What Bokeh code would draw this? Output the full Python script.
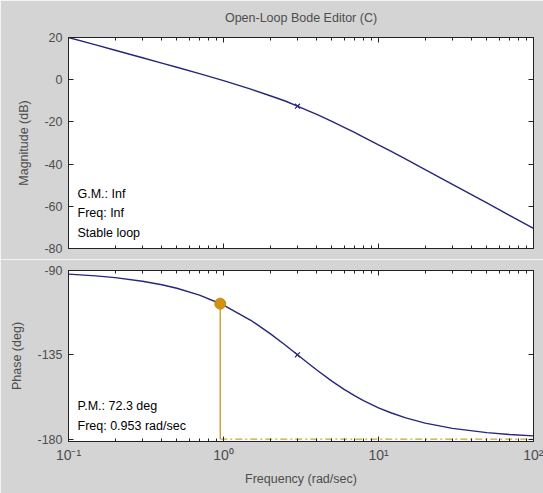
from bokeh.plotting import figure
from bokeh.layouts import column
from bokeh.models import Range1d, LogAxis, LinearAxis, Label, FixedTicker
from bokeh.embed import file_html
from bokeh.resources import INLINE

# ---- data ----
freq = [0.1, 0.15, 0.2, 0.3, 0.4, 0.5, 0.7, 1, 1.5, 2, 2.5, 3, 3.5, 4, 5, 6, 7, 8,
        10, 12, 15, 20, 30, 50, 70, 100]
mag_db = [20.0, 16.47, 13.96, 10.41, 7.88, 5.90, 2.86, -0.46, -4.49, -7.62, -10.10,
          -12.55, -14.65, -16.48, -19.80, -22.55, -25.0, -27.2, -30.9, -33.88, -37.67,
          -42.63, -49.58, -58.43, -64.27, -70.46]
phase_deg = [-91.91, -92.86, -93.81, -95.71, -97.59, -99.46, -103.13, -108.43, -116.57,
             -123.69, -129.81, -135.0, -139.40, -143.13, -149.04, -153.43, -156.80,
             -159.44, -163.30, -165.96, -168.69, -171.47, -174.29, -176.57, -177.55,
             -178.28]
pole_freq = [3.0]
pole_mag = [-12.55]
pole_phase = [-135.0]
pm_freq = [0.953]
pm_phase = [-107.7]
ref_freq = [0.953, 100]
ref_phase = [-180, -180]

mag_ticks = [20, 0, -20, -40, -60, -80]
phase_ticks = [-90, -135, -180]
x_ticks = [0.1, 1, 10, 100]
x_tick_labels = {0.1: "10⁻¹", 1: "10⁰", 10: "10¹", 100: "10²"}

title_text = "Open-Loop Bode Editor (C)"
gm_texts = ["G.M.: Inf", "Freq: Inf", "Stable loop"]
gm_pos = [-54.3, -63.3, -72.8]
pm_texts = ["P.M.: 72.3 deg", "Freq: 0.953 rad/sec"]
pm_pos = [-162.6, -173.2]

BG = "#d4d4d4"
TXT = "#4d4d4d"
NAVY = "#26267a"
FONT = "Liberation Sans"

minors = [m * d for d in [0.1, 1, 10] for m in range(2, 10)]


def style_axis(ax, hidden=False):
    ax.axis_line_color = "#222222"
    ax.major_tick_in = 5
    ax.major_tick_out = 0
    ax.minor_tick_in = 3
    ax.minor_tick_out = 0
    ax.major_tick_line_color = "#222222"
    ax.minor_tick_line_color = "#222222"
    ax.major_label_text_font = FONT
    ax.major_label_text_font_size = "12.5px"
    ax.major_label_text_color = TXT
    ax.major_label_standoff = 6
    ax.axis_label_text_font = FONT
    ax.axis_label_text_font_size = "12.5px"
    ax.axis_label_text_font_style = "normal"
    ax.axis_label_text_color = TXT
    if hidden:
        ax.major_label_text_font_size = "1px"
        ax.major_label_text_alpha = 0
        ax.major_label_standoff = 0


def build(p, yticks, show_x):
    p.background_fill_color = "white"
    p.border_fill_color = BG
    p.outline_line_color = "#222222"
    p.grid.visible = False
    bottom = p.below[0]
    left = p.left[0]
    bottom.ticker = FixedTicker(ticks=x_ticks, minor_ticks=minors)
    left.ticker = FixedTicker(ticks=yticks)
    left.major_label_overrides = {t: str(t) for t in yticks}
    style_axis(bottom, hidden=not show_x)
    style_axis(left)
    left.axis_label_standoff = 10
    top = LogAxis(ticker=FixedTicker(ticks=x_ticks, minor_ticks=minors))
    style_axis(top, hidden=True)
    p.add_layout(top, "above")
    right = LinearAxis(ticker=FixedTicker(ticks=yticks))
    style_axis(right, hidden=True)
    p.add_layout(right, "right")
    return bottom, left


# ---- magnitude ----
p1 = figure(width=543, height=259, x_axis_type="log", output_backend="svg",
            toolbar_location=None, x_range=Range1d(0.1, 100), y_range=Range1d(-80, 20),
            min_border_left=68, min_border_right=10, min_border_top=37, min_border_bottom=11)
p1.title.text = title_text
p1.title.align = "center"
p1.title.vertical_align = "top"
p1.title.text_font = FONT
p1.title.text_font_size = "12.5px"
p1.title.text_font_style = "normal"
p1.title.text_color = TXT
p1.title.standoff = 21
b1, l1 = build(p1, mag_ticks, show_x=False)
l1.axis_label = "Magnitude (dB)"

p1.line(freq, mag_db, line_color=NAVY, line_width=1.4)
p1.scatter(pole_freq, pole_mag, marker="x", size=7, line_color=NAVY, line_width=1.2)
for t, y in zip(gm_texts, gm_pos):
    p1.add_layout(Label(x=0.1143, y=y, text=t, text_font=FONT, text_font_size="12.5px",
                        text_color="black", text_baseline="middle"))

# ---- phase ----
p2 = figure(width=543, height=234, x_axis_type="log", output_backend="svg",
            toolbar_location=None, x_range=p1.x_range, y_range=Range1d(-181.3, -90),
            min_border_left=68, min_border_right=10, min_border_top=11, min_border_bottom=52)
b2, l2 = build(p2, phase_ticks, show_x=True)
b2.major_label_overrides = x_tick_labels
b2.major_label_text_font_size = "14px"
b2.major_label_standoff = 5
b2.axis_label = "Frequency (rad/sec)"
b2.axis_label_standoff = 6
l2.axis_label = "Phase (deg)"

p2.line(ref_freq, ref_phase, line_color="#c9a43c", line_width=1.3, line_dash="7 3 2 3")
p2.segment(x0=pm_freq, y0=pm_phase, x1=pm_freq, y1=[-180], line_color="#c9a43c", line_width=1.5)
p2.line(freq, phase_deg, line_color=NAVY, line_width=1.4)
p2.scatter(pole_freq, pole_phase, marker="x", size=7, line_color=NAVY, line_width=1.2)
p2.scatter(pm_freq, pm_phase, marker="circle", size=11, fill_color="#d4900f",
           line_color="#c88a10")
for t, y in zip(pm_texts, pm_pos):
    p2.add_layout(Label(x=0.1143, y=y, text=t, text_font=FONT, text_font_size="12.5px",
                        text_color="black", text_baseline="middle"))

layout = column(p1, p2, spacing=0)
open("out.html", "w").write(file_html(layout, INLINE))
